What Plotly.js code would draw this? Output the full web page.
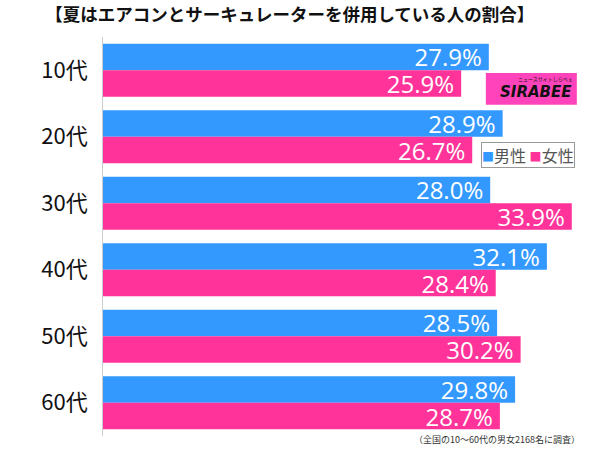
<!DOCTYPE html>
<html><head><meta charset="utf-8">
<script src="https://cdn.plot.ly/plotly-3.0.1.min.js"></script>
<style>body{margin:0;background:#fff}#c{width:600px;height:449px}</style>
</head><body><div id="c"></div>
<script>
const categories = ['10代','20代','30代','40代','50代','60代'];
const male = [27.9, 28.9, 28.0, 32.1, 28.5, 29.8];
const female = [25.9, 26.7, 33.9, 28.4, 30.2, 28.7];
const seriesNames = ['男性','女性'];
const colors = ['#3399ff','#ff3399'];
const FONT = '"Noto Sans CJK JP", "Noto Sans", sans-serif';
function tr(vals, name, color){
  return {type:'bar', orientation:'h', y:categories, x:vals, name:name,
    marker:{color:color},
    text: vals.map(v=>v.toFixed(1)+'%\u2009'), textposition:'inside', insidetextanchor:'end', constraintext:'none',
    textfont:{color:'#fff', size:24, family:'"Open Sans", sans-serif'}, hoverinfo:'none', cliponaxis:false};
}
const data = [tr(male, seriesNames[0], colors[0]), tr(female, seriesNames[1], colors[1])];
const legendText = seriesNames.map((n,i)=>'<span style="color:'+colors[i]+';font-size:12px">■</span>'+n).join(' ');
const layout = {
  width:600, height:449, margin:{l:103, r:13, t:37, b:12.5},
  paper_bgcolor:'#fff', plot_bgcolor:'#fff',
  barmode:'group', bargap:0.2, bargroupgap:0,
  title:{text:'【夏はエアコンとサーキュレーターを併用している人の割合】', font:{family:FONT, size:17.5, color:'#111', weight:'bold'}, xref:'container', x:0.483, xanchor:'center', y:0.966, yanchor:'middle'},
  xaxis:{range:[0,35], visible:false, fixedrange:true},
  yaxis:{autorange:'reversed', showline:true, linecolor:'#ccc', linewidth:1, ticks:'', ticklen:0,
    tickfont:{family:FONT, size:22, color:'#111'}, ticksuffix:'  ', showgrid:false},
  showlegend:false,
  shapes:[{type:'rect', xref:'paper', yref:'paper', x0:0.791, x1:0.979, y0:0.830, y1:0.910, fillcolor:'#ff44bb', line:{width:0}}],
  annotations:[
    {xref:'paper', yref:'paper', x:0.895, y:0.862, text:'<b><i>SIRABEE</i></b>', showarrow:false, font:{family:'DejaVu Sans', size:15, color:'#111'}, xanchor:'center', yanchor:'middle'},
    {xref:'paper', yref:'paper', x:0.915, y:0.895, text:'ニュースサイトしらべぇ', showarrow:false, font:{family:FONT, size:5, color:'#111'}, xanchor:'center', yanchor:'middle'},
    {xref:'paper', yref:'paper', x:0.975, y:0.705, text:legendText, showarrow:false, font:{family:FONT, size:16, color:'#555'}, xanchor:'right', yanchor:'middle', bordercolor:'#999', borderwidth:1, borderpad:0, bgcolor:'#fff'},
    {xref:'paper', yref:'paper', x:0.99, y:-0.01, text:'（全国の10～60代の男女2168名に調査）', showarrow:false, font:{family:FONT, size:9, color:'#333'}, xanchor:'right', yanchor:'middle'}
  ]
};
Plotly.newPlot('c', data, layout, {displayModeBar:false, staticPlot:true});
</script></body></html>
